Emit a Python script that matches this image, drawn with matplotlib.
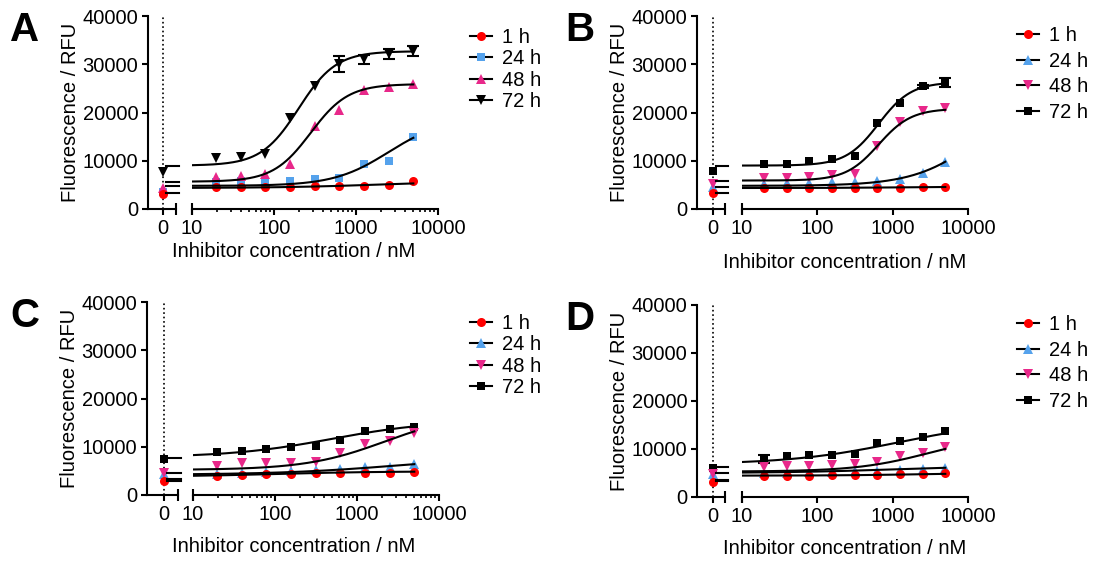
import numpy as np
import matplotlib.pyplot as plt
from matplotlib.lines import Line2D

plt.rcParams['font.family'] = ['Liberation Sans', 'DejaVu Sans']
plt.rcParams['font.size'] = 14.5

# concentraciones (nM), dilucion 1:2 desde 5000
CONC = [19.53, 39.06, 78.13, 156.25, 312.5, 625, 1250, 2500, 5000]
TIMES = ['1 h', '24 h', '48 h', '72 h']

RED = '#ff0000'
BLUE = '#55a2ec'
PINK = '#e8288a'
BLACK = '#000000'

# ---- panel A ----
a_1h = [4600, 4600, 4650, 4650, 4700, 4800, 4800, 5000, 5700]
a_24h = [5500, 5700, 5700, 5800, 6200, 6500, 9300, 10000, 15000]
a_48h = [6700, 6900, 7250, 9300, 17100, 20500, 24700, 25200, 26000]
a_72h = [10600, 10800, 11300, 18800, 25500, 30000, 31000, 32100, 32800]
a_72h_err = [0, 0, 0, 0, 0, 1700, 1000, 1100, 1000]
a_zero = [3100, 3600, 4300, 7600]
a_stub = [3250, 4800, 5660, 9000]
# ajuste 4PL: bottom, top, EC50, hill
a_fit = [(4350, 5800, 2000, 0.7), (4800, 18800, 2500, 1.3),
         (5660, 25900, 280, 1.9), (9000, 32700, 200, 1.9)]

# ---- panel B ----
b_1h = [4400, 4400, 4400, 4400, 4400, 4400, 4450, 4500, 4500]
b_24h = [5200, 5300, 5400, 5500, 5600, 5800, 6300, 7400, 9800]
b_48h = [6500, 6500, 6700, 7000, 7200, 13100, 18100, 20300, 20900]
b_72h = [9300, 9400, 10000, 10300, 11000, 17800, 21900, 25400, 26200]
b_72h_err = [0, 0, 0, 0, 0, 0, 0, 300, 900]
b_zero = [3300, 4600, 5100, 7900]
b_stub = [3250, 4600, 5900, 8900]
b_fit = [(4350, 4600, 1000, 1.0), (4800, 24800, 15000, 1.0),
         (5900, 20800, 650, 2.0), (9000, 26300, 650, 2.0)]

# ---- panel C ----
c_1h = [4000, 4100, 4300, 4400, 4500, 4500, 4600, 4600, 4700]
c_24h = [4400, 4600, 4800, 5000, 5100, 5300, 5700, 5900, 6400]
c_48h = [6000, 6600, 6700, 6700, 6900, 8700, 10600, 11100, 12800]
c_72h = [9000, 9200, 9550, 9900, 10200, 11300, 13300, 13600, 14000]
c_72h_err = [0, 0, 0, 0, 0, 0, 0, 0, 0]
c_zero = [2900, 4300, 4600, 7500]
c_stub = [2950, 3300, 4500, 7600]
c_fit = [(3800, 4900, 100, 0.7), (4200, 8000, 3000, 0.6),
         (5200, 17000, 2200, 0.9), (7800, 15500, 500, 0.7)]

# ---- panel D ----
d_1h = [4450, 4450, 4450, 4500, 4600, 4600, 4800, 4850, 5000]
d_24h = [5000, 5100, 5200, 5300, 5400, 5500, 5700, 5900, 6000]
d_48h = [6300, 6500, 6500, 6700, 6900, 7200, 8600, 9200, 10400]
d_72h = [7900, 8600, 8700, 8800, 8900, 11200, 11700, 12400, 13700]
d_72h_err = [800, 0, 0, 0, 0, 0, 0, 0, 0]
d_zero = [3200, 4700, 4850, 6000]
d_stub = [3250, 3500, 5100, 6200]
d_fit = [(4450, 5000, 2000, 0.8), (5000, 6500, 1000, 0.6),
         (5300, 13000, 3000, 0.9), (6800, 16000, 1200, 0.6)]

STYLE_A = [('o', RED, 6.5), ('s', BLUE, 6), ('^', PINK, 7), ('v', BLACK, 7)]
STYLE_BCD = [('o', RED, 6.5), ('^', BLUE, 7), ('v', PINK, 7), ('s', BLACK, 6)]

W, H = 1103, 565


def fourpl(x, bottom, top, ec50, hill):
    return bottom + (top - bottom) / (1 + (ec50 / x) ** hill)


def px_axes(fig, x0, x1, ytop, ybot):
    return fig.add_axes([x0 / W, 1 - ybot / H, (x1 - x0) / W, (ybot - ytop) / H])


def draw_panel(fig, geom, letter, series, zeros, stubs, fits, err72, styles, leg, xlab):
    yax, zero_x, stub_end, log0, log1, ytop, ybot = geom
    ax0 = px_axes(fig, yax, stub_end, ytop, ybot)
    ax1 = px_axes(fig, log0, log1, ytop, ybot)

    # tramo del cero
    ax0.set_xlim(yax - zero_x, stub_end - zero_x)
    ax0.set_ylim(0, 40000)
    ax0.set_yticks([0, 10000, 20000, 30000, 40000])
    ax0.set_xticks([0])
    ax0.set_xticklabels(['0'])
    for s in ['top', 'right']:
        ax0.spines[s].set_visible(False)
    ax0.axvline(0, ls=':', color='black', lw=1.2, zorder=1)

    # tramo logaritmico
    ax1.set_xscale('log')
    ax1.set_xlim(10, 10000)
    ax1.set_ylim(0, 40000)
    ax1.set_xticks([10, 100, 1000, 10000])
    ax1.set_xticklabels(['10', '100', '1000', '10000'])
    ax1.set_yticks([])
    for s in ['top', 'right', 'left']:
        ax1.spines[s].set_visible(False)
    ax1.patch.set_alpha(0)
    ax0.patch.set_alpha(0)

    for ax in (ax0, ax1):
        ax.spines['bottom'].set_linewidth(1.5)
        ax.spines['left'].set_linewidth(1.5)
        ax.tick_params(which='major', direction='out', length=4, width=1.5, pad=3)
        ax.tick_params(which='minor', direction='out', length=2.5, width=1.2)

    # marcas de corte del eje
    ax0.plot([stub_end - zero_x], [0], marker='|', ms=8, mew=1.5, color='black', clip_on=False)
    ax1.plot([10], [0], marker='|', ms=8, mew=1.5, color='black', clip_on=False)

    xs = np.logspace(1, np.log10(5000), 200)
    order = [3, 1, 2, 0]
    for i in order:
        m, c, ms = styles[i]
        ax1.plot(CONC, series[i], ls='none', marker=m, color=c, ms=ms, mew=0, zorder=3, clip_on=False)
        ax0.plot([0], [zeros[i]], ls='none', marker=m, color=c, ms=ms, mew=0, zorder=3)
        if i == 3:
            e = np.array(err72)
            mask = e > 0
            if mask.any():
                ax1.errorbar(np.array(CONC)[mask], np.array(series[i])[mask], yerr=e[mask],
                             fmt='none', ecolor='black', elinewidth=1.5, capsize=4, capthick=1.5, zorder=3)
    for i in range(4):
        ax1.plot(xs, fourpl(xs, *fits[i]), color='black', lw=1.5, zorder=4)
        ax0.plot([3, stub_end - zero_x + 3], [stubs[i], stubs[i]], color='black', lw=1.5,
                 zorder=4, clip_on=False)

    ax0.set_ylabel('Fluorescence / RFU', labelpad=2)
    fig.text(xlab[0] / W, 1 - xlab[1] / H, 'Inhibitor concentration / nM',
             ha='center', va='center')
    fig.text(leg[2] / W, 1 - (ytop + 14) / H, letter, fontsize=29, fontweight='bold',
             ha='left', va='center')

    handles = [Line2D([], [], color='black', lw=1.5, marker=styles[i][0], ms=styles[i][2],
                      markerfacecolor=styles[i][1], markeredgecolor=styles[i][1], mew=0)
               for i in range(4)]
    fig.legend(handles, TIMES, loc='upper left', bbox_to_anchor=(leg[0] / W, 1 - leg[1] / H),
               frameon=False, borderpad=0, borderaxespad=0, handlelength=1.1,
               handletextpad=0.5, labelspacing=leg[3])


fig = plt.figure(figsize=(W / 100, H / 100), dpi=100)

draw_panel(fig, (148, 163, 176, 192, 438, 16, 209), 'A',
           [a_1h, a_24h, a_48h, a_72h], a_zero, a_stub, a_fit, a_72h_err, STYLE_A,
           (470, 28, 10, 0.12), (294, 252))
draw_panel(fig, (697, 713, 725, 742, 968, 16, 209), 'B',
           [b_1h, b_24h, b_48h, b_72h], b_zero, b_stub, b_fit, b_72h_err, STYLE_BCD,
           (1017, 26, 565, 0.33), (845, 262))
draw_panel(fig, (147, 164, 178, 193, 439, 302, 495), 'C',
           [c_1h, c_24h, c_48h, c_72h], c_zero, c_stub, c_fit, c_72h_err, STYLE_BCD,
           (470, 314, 10, 0.12), (294, 547))
draw_panel(fig, (697, 713, 725, 742, 968, 305, 497), 'D',
           [d_1h, d_24h, d_48h, d_72h], d_zero, d_stub, d_fit, d_72h_err, STYLE_BCD,
           (1017, 315, 565, 0.33), (845, 548))

fig.savefig('out.png', dpi=100)
